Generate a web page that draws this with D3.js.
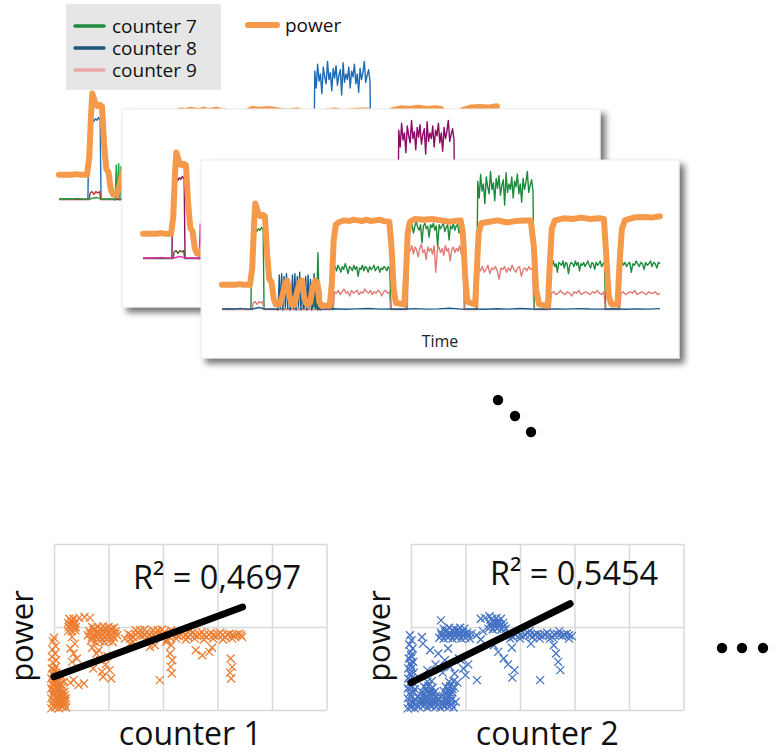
<!DOCTYPE html>
<html>
<head>
<meta charset="utf-8">
<script src="https://cdn.jsdelivr.net/npm/d3@7"></script>
<style>
  body { margin: 0; background: #fff; }
  svg { display: block; font-family: "Open Sans", sans-serif; }
</style>
</head>
<body>
<script>

        // ---- time traces: [t, value] for power, [t0, t1, values] segments for counters
const powerTrace = [
  [0,18],[3,18],[4,18.5],[5,18],[6.4,18],[6.9,30],[7.3,60],[7.6,76],[8.0,72],[8.4,68],[8.8,67],[9.3,68],[9.8,67],
  [10.3,40],[10.8,22],[11.3,20],[11.8,8],[12.3,4],[13.2,4],[13.8,10],[14.4,19],[14.9,21],[15.4,10],[15.9,4],
  [16.6,4],[17.2,14],[17.8,20],[18.3,21],[18.8,8],[19.4,4],[20.1,5],[20.7,16],[21.3,21],[21.8,19],[22.2,6],
  [22.8,3],[24.6,3],[25.1,20],[25.5,50],[26,61],[26.8,63],[28,64],[29,63.5],[30,64.5],[31,64],[32,63.5],
  [33,64.5],[34,63.5],[35,64],[36,64.5],[37,63.5],[38.2,63],[38.7,45],[39.2,15],[39.7,5],[41.6,4],[42,25],
  [42.4,55],[42.9,63],[44,65],[46,64.5],[48,65],[50,64],[52,63],[53,63.5],[54.5,64],[55,55],[55.5,25],[56,6],
  [57.8,4],[58.2,30],[58.6,55],[59.2,62],[61,63],[63,64],[65,62.5],[67,63.5],[69,64],[70.5,64],[71.2,45],
  [71.7,15],[72.4,4],[74.4,3],[74.8,30],[75.3,58],[76,64],[78,65.5],[80,65],[82,66],[84,65],[86,65.5],
  [87.2,65],[87.7,40],[88.3,10],[88.9,4],[90.3,4],[90.8,35],[91.3,58],[92,64],[94,66],[96,66.5],[98,66],[100,67]
];

const counter7Segs = [
  [0, 6.6, [0.6,0.5,0.8,0.5,0.6,0.5]],
  [6.8, 9.4, [48,57,59,56,58,57,59,57]],
  [9.6, 20.4, [0.5,0.6,0.5,0.8,0.5,0.6,0.5,0.5]],
  [20.7, 22.8, [7,2,11,1,41,3,15,1]],
  [23.1, 25.2, [0.5,0.6,0.8]],
  [25.5, 38.3, [29,31,28,32,30,27,31,29,33,30,26,31,30,28,32,29,31,24,30,29,32,28,31,30,27,31,29,30,32,28,30,31,27,30,29,31,30,28,31,29]],
  [38.6, 42.1, [0.6,0.5,0.7,0.5]],
  [42.4, 55.1, [62,63,59,61,55,60,63,59,57,61,48,60,62,58,60,52,61,59,62,57,60,45,61,58,60,62,56,59,61,50,60,58,62,57,60,61,55,59,60,62]],
  [55.4, 58.1, [0.6,0.5,0.7]],
  [58.4, 71.0, [92,80,97,85,90,76,95,88,83,99,86,91,78,94,87,96,82,89,93,75,98,84,90,86,95,80,92,88,97,83,90,77,94,86,91,99,84,89,93,85]],
  [71.3, 74.7, [0.6,0.5,0.7,0.5]],
  [75.0, 87.3, [34,32,35,31,33,27,34,33,32,35,30,34,33,26,32,34,33,31,35,32,34,28,33,32,34,31,33,35,32,30,34,33,29,34,32,33,35,31,33,34]],
  [87.6, 90.6, [0.6,0.5,0.7,0.5]],
  [90.9, 100, [33,35,32,34,31,33,34,27,33,32,35,33,31,34,33,29,34,32,33,35,31,34,33,30,34,33]]
];

const counter8Segs = [
  [0, 12.6, [0.6,0.9,0.6,1.2,0.6,0.7,1.8,0.6,0.8,0.6]],
  [12.8, 22.4, [0,25,1,26,0,24,2,26,1,22,0,3,25,1,26,0,24,2,27,0,20,1,2,24,0,25,2,22,0,3,26,1,18,0,2,0]],
  [22.7, 100, [0.6,0.9,0.5,0.8,1.1,0.6,0.7,0.5,1.0,0.6,0.8,1.2,0.6,0.7,0.5,0.9,0.6,1.1,0.7,0.5,0.8,0.6,1.0,0.7,0.6,0.9,0.5,0.8,0.6,1.0]]
];

const counter9Segs = [
  [0, 6.9, [0.4,0.4,0.4]],
  [7.1, 9.3, [5,6,4,6,5,6]],
  [9.5, 25.4, [0.4,0.4,0.4]],
  [25.7, 38.2, [13,12,14,11,13,15,12,13,10,14,12,13,14,11,13,12,15,13,12,14,11,13,12,14,13,10,13,14,12,13]],
  [38.5, 42.3, [0.4,0.4]],
  [42.6, 55.0, [44,42,46,40,45,43,38,44,47,41,43,36,45,42,44,40,46,27,43,45,41,44,39,46,42,44,35,43,45,41,44,42,46,40,43]],
  [55.3, 58.3, [0.4,0.4]],
  [58.6, 70.9, [30,28,31,27,29,32,26,30,29,31,28,22,30,29,31,27,30,28,32,29,27,30,31,24,29,30,28,31,29,30]],
  [71.2, 74.9, [0.4,0.4]],
  [75.2, 87.2, [12,13,11,12,14,12,11,13,12,10,13,12,14,11,12,13,12,11,13,12,14,12,11,13]],
  [87.5, 90.8, [0.4,0.4]],
  [91.1, 100, [12,13,11,12,13,12,14,11,12,13,12,11,13,12,12,13,11,12]]
];

const legendLabels = ["counter 7", "counter 8", "counter 9"];
const powerLabel = "power";

        // ---- scatter data (counter value, power)
const scatter1Points = [
  [-0.05,0.02],[0.02,0.03],[0.09,0.02],[0.16,0.04],[0.22,0.03],[-0.01,0.05],[0.06,0.06],[0.13,0.05],[0.2,0.07],
  [-0.03,0.08],[0.04,0.09],[0.11,0.08],[0.18,0.1],[0.0,0.11],[0.07,0.12],[0.14,0.12],[0.21,0.11],
  [-0.05,0.14],[0.02,0.15],[0.09,0.13],[0.15,0.16],[0.22,0.14],[-0.01,0.18],[0.06,0.17],[0.13,0.18],[0.2,0.18],
  [-0.02,0.2],[0.05,0.21],[0.12,0.19],[0.19,0.22],[0.0,0.24],[0.07,0.24],[0.14,0.23],
  [-0.05,0.26],[0.02,0.27],[0.09,0.26],[0.16,0.28],[-0.01,0.3],[0.06,0.29],[0.13,0.3],
  [-0.03,0.32],[0.04,0.33],[0.11,0.31],[0.18,0.34],[0.0,0.36],[0.07,0.35],
  [-0.05,0.38],[0.02,0.39],[0.08,0.37],[0.14,0.4],[-0.01,0.42],[0.06,0.41],
  [-0.02,0.44],[0.05,0.45],[0.11,0.43],[0.01,0.48],
  [-0.04,0.5],[0.03,0.52],[-0.02,0.57],[0.04,0.6],[-0.04,0.64],[0.02,0.68],[-0.03,0.73],[0.03,0.77],[-0.02,0.83],[0.0,0.87],
  [0.3,0.33],[0.45,0.3],[0.55,0.32],[0.36,0.36],
  [0.26,0.95],[0.33,0.95],[0.39,0.96],[0.27,1.0],[0.34,1.01],[0.4,1.0],[0.26,1.05],[0.33,1.06],[0.39,1.05],[0.28,1.1],[0.36,1.1],
  [0.3,0.98],[0.37,0.99],[0.3,1.03],[0.37,1.03],[0.31,1.08],
  [0.46,1.11],[0.56,1.12],[0.66,1.11],
  [0.33,0.88],[0.38,0.8],[0.3,0.74],[0.36,0.68],[0.42,0.62],[0.33,0.58],
  [0.62,0.9],[0.7,0.88],[0.78,0.87],[0.86,0.88],[0.94,0.87],[1.02,0.88],[1.1,0.87],[1.16,0.9],
  [0.66,0.92],[0.74,0.92],[0.82,0.91],[0.9,0.92],[0.98,0.91],[1.06,0.92],[1.13,0.92],
  [0.65,0.95],[0.73,0.96],[0.81,0.94],[0.89,0.96],[0.97,0.95],[1.05,0.96],[1.13,0.95],
  [0.7,1.0],[0.8,1.0],[0.9,1.01],[1.0,1.0],[1.1,0.99],[0.75,0.98],[0.85,0.98],[0.95,0.98],[1.05,0.98],
  [0.68,0.84],[0.76,0.82],[0.84,0.83],[0.92,0.82],[1.0,0.83],[1.08,0.82],
  [0.7,0.75],[0.78,0.68],[0.85,0.6],[0.95,0.55],[1.02,0.48],[0.9,0.4],[1.05,0.38],[0.82,0.72],[0.98,0.65],[0.72,0.5],[0.88,0.46],
  [1.36,0.92],[1.45,0.88],[1.54,0.93],[1.62,0.89],[1.7,0.94],[1.78,0.88],[1.86,0.93],[1.95,0.89],[2.03,0.94],
  [2.12,0.88],[2.2,0.93],[2.29,0.89],[2.37,0.94],[2.46,0.88],[2.54,0.93],[2.63,0.89],[2.71,0.94],[2.8,0.88],
  [2.88,0.93],[2.97,0.89],[3.05,0.93],[3.14,0.88],[3.22,0.92],[3.31,0.89],[3.4,0.92],[3.45,0.88],
  [1.41,0.9],[1.5,0.91],[1.58,0.9],[1.67,0.91],[1.75,0.9],[1.83,0.91],[1.91,0.9],[2.0,0.91],[2.08,0.9],
  [2.16,0.91],[2.25,0.9],[2.33,0.91],[2.41,0.9],[2.5,0.91],[2.58,0.9],[2.67,0.91],[2.75,0.9],[2.84,0.91],
  [2.92,0.9],[3.01,0.91],[3.09,0.9],[3.18,0.91],[3.27,0.9],[3.35,0.91],[3.43,0.9],
  [1.4,0.86],[1.58,0.96],[1.74,0.85],[1.9,0.96],[2.07,0.85],[2.24,0.86],[2.42,0.85],[2.58,0.86],[2.75,0.85],
  [2.92,0.86],[3.1,0.85],[3.27,0.86],[2.5,0.97],[1.3,0.86],[1.5,0.96],[1.66,0.97],[1.82,0.96],[1.98,0.97],[2.15,0.96],
  [1.39,0.8],[1.45,0.82],[1.76,0.76],[1.85,0.78],[2.15,0.78],[2.13,0.68],[2.17,0.6],[2.14,0.52],[2.16,0.44],
  [2.06,0.82],[1.94,0.36],[2.6,0.72],[2.72,0.66],[2.85,0.7],[2.9,0.75],[3.24,0.62],[3.27,0.52],[3.23,0.45],[3.25,0.38]
];

const scatter2Points = [
  [-0.06,0.02],[0.0,0.03],[0.07,0.02],[-0.04,0.08],[0.03,0.09],[0.09,0.07],[-0.06,0.14],[0.01,0.15],[0.07,0.13],
  [-0.03,0.2],[0.04,0.21],[-0.06,0.26],[0.01,0.27],[0.07,0.25],[-0.03,0.32],[0.04,0.33],[-0.05,0.38],[0.02,0.39],
  [-0.02,0.44],[0.05,0.45],[-0.05,0.5],[0.02,0.51],[-0.02,0.56],[0.04,0.58],[-0.04,0.62],[0.02,0.64],[-0.01,0.7],
  [0.03,0.74],[-0.03,0.79],[0.01,0.84],[-0.02,0.9],[0.0,0.06],[0.0,0.18],[0.0,0.3],[0.0,0.42],[0.0,0.54],[0.0,0.66],
  [0.14,0.04],[0.22,0.05],[0.3,0.03],[0.38,0.05],[0.46,0.04],[0.54,0.03],[0.62,0.05],[0.7,0.04],[0.78,0.03],
  [0.18,0.1],[0.26,0.11],[0.34,0.09],[0.42,0.1],[0.5,0.11],[0.58,0.09],[0.66,0.1],[0.74,0.11],[0.82,0.1],
  [0.14,0.16],[0.22,0.17],[0.3,0.15],[0.38,0.16],[0.46,0.17],[0.55,0.16],[0.63,0.15],[0.71,0.17],
  [0.2,0.22],[0.28,0.23],[0.36,0.21],[0.44,0.22],[0.6,0.23],[0.68,0.22],[0.76,0.21],
  [0.24,0.28],[0.32,0.29],[0.4,0.27],[0.64,0.28],[0.72,0.29],[0.8,0.27],
  [0.3,0.34],[0.38,0.35],[0.7,0.34],[0.78,0.35],[0.85,0.33],
  [0.18,0.07],[0.26,0.07],[0.34,0.06],[0.42,0.07],[0.5,0.07],[0.58,0.06],[0.66,0.07],[0.74,0.07],
  [0.18,0.13],[0.26,0.14],[0.34,0.13],[0.42,0.13],[0.5,0.14],[0.66,0.13],[0.74,0.14],
  [0.24,0.19],[0.32,0.2],[0.4,0.19],[0.64,0.19],[0.72,0.2],[0.28,0.26],[0.36,0.25],[0.68,0.25],[0.76,0.25],
  [0.22,0.8],[0.35,0.72],[0.5,0.68],[0.62,0.6],[0.45,0.55],[0.72,0.52],[0.8,0.44],[0.58,0.45],[0.88,0.62],
  [0.68,0.74],[0.3,0.48],[0.2,0.88],
  [0.52,0.87],[0.6,0.86],[0.68,0.87],[0.76,0.86],[0.84,0.87],[0.92,0.86],[1.0,0.87],[1.08,0.86],
  [0.56,0.9],[0.64,0.9],[0.72,0.9],[0.8,0.9],[0.88,0.9],[0.96,0.9],[1.04,0.9],
  [0.55,0.93],[0.63,0.94],[0.71,0.93],[0.79,0.94],[0.87,0.93],[0.95,0.94],[1.03,0.93],[1.11,0.92],
  [0.6,0.98],[0.7,0.99],[0.8,0.98],[0.9,0.99],[0.98,0.98],[0.66,0.96],[0.76,0.96],[0.86,0.96],[0.55,1.08],
  [1.2,0.9],[1.28,0.85],[1.32,0.95],
  [1.42,0.98],[1.5,0.97],[1.58,0.98],[1.66,0.97],[1.74,0.98],[1.45,1.04],[1.53,1.05],[1.61,1.04],[1.69,1.05],
  [1.46,1.01],[1.54,1.01],[1.62,1.01],[1.7,1.01],[1.5,1.07],[1.6,1.07],
  [1.48,1.1],[1.57,1.11],[1.65,1.1],[1.28,1.1],[1.36,1.11],[1.44,1.13],
  [1.78,0.92],[1.87,0.88],[1.96,0.93],[2.05,0.89],[2.14,0.93],[2.23,0.88],[2.32,0.92],[2.41,0.89],[2.5,0.93],
  [2.59,0.88],[2.68,0.92],[2.77,0.89],[2.86,0.92],[2.95,0.89],
  [1.82,0.9],[1.91,0.91],[2.0,0.9],[2.09,0.91],[2.18,0.9],[2.27,0.91],[2.36,0.9],[2.45,0.91],[2.54,0.9],
  [2.63,0.91],[2.72,0.9],[2.81,0.91],[2.9,0.9],
  [1.82,0.86],[2.0,0.86],[2.18,0.95],[2.36,0.86],[2.55,0.86],[2.72,0.95],[2.9,0.86],
  [0.92,0.6],[0.96,0.5],[1.0,0.42],[1.05,0.55],[1.21,0.36],[1.52,0.78],[1.6,0.7],[1.7,0.62],[1.78,0.55],
  [1.85,0.75],[1.9,0.48],[1.86,0.39],[2.37,0.36],[2.62,0.78],[2.66,0.68],[2.7,0.58],[2.74,0.48],[2.2,0.8]
];

const trend1 = [[0, 0.40], [3.46, 1.24]];
const trend2 = [[0, 0.33], [2.92, 1.28]];
const r2Labels = ["R² = 0,4697", "R² = 0,5454"];
const scatterXLabels = ["counter 1", "counter 2"];

        //page setup
const width = 777, height = 754;

let svg = d3.select("body").append("svg")
    .attr("width", width)
    .attr("height", height);

svg.append("defs")
    .append("filter")
    .attr("id", "shadow")
    .attr("x", "-10%").attr("y", "-10%")
    .attr("width", "125%").attr("height", "130%")
    .append("feDropShadow")
    .attr("dx", 5).attr("dy", 5)
    .attr("stdDeviation", 3)
    .attr("flood-color", "#000")
    .attr("flood-opacity", 0.55);

        //card layout: same trace, three palettes
const cardW = 478, cardH = 198;
const cards = [
    {left: 38,  top: 50,  framed: false, colors: ["#1f6cb6", "#23a244", "#b93329"]},
    {left: 122, top: 109, framed: true,  colors: ["#8b0b66", "#e630b8", "#4d5a27"]},
    {left: 201, top: 160, framed: true,  colors: ["#1e8a3c", "#1c5a8a", "#e07b76"]}
];

let tx = d3.scaleLinear().domain([0, 100]).range([21, 459]);
let ty = d3.scaleLinear().domain([0, 100]).range([150, 10]);
let traceLine = d3.line().x(d => tx(d[0])).y(d => ty(d[1]));

function expand(segs) {
    let pts = [];
    segs.forEach(([t0, t1, vals]) => {
        vals.forEach((v, i) => {
            let t = vals.length > 1 ? t0 + (t1 - t0) * i / (vals.length - 1) : t0;
            pts.push([t, v]);
        });
    });
    return pts;
}

cards.forEach(card => {
    let g = svg.append("g").attr("transform", `translate(${card.left},${card.top})`);

    g.append("rect")
        .attr("width", cardW)
        .attr("height", cardH)
        .attr("fill", "#fff")
        .attr("stroke", card.framed ? "#ececec" : "none")
        .attr("filter", card.framed ? "url(#shadow)" : null);

            //counter 7, counter 9 then counter 8 on top
    [[counter7Segs, 0], [counter9Segs, 2], [counter8Segs, 1]].forEach(([segs, ci]) => {
        g.append("path")
            .attr("d", traceLine(expand(segs)))
            .attr("fill", "none")
            .attr("stroke", card.colors[ci])
            .attr("stroke-width", 1.4)
            .attr("stroke-linejoin", "round");
    });

    g.append("path")
        .attr("d", traceLine(powerTrace))
        .attr("fill", "none")
        .attr("stroke", "#f5994a")
        .attr("stroke-width", 6)
        .attr("stroke-linejoin", "round")
        .attr("stroke-linecap", "round");

    g.append("text")
        .attr("x", 239)
        .attr("y", 187)
        .attr("text-anchor", "middle")
        .attr("font-size", 16)
        .attr("fill", "#222")
        .text("Time");
});

        //legend
let legend = svg.append("g");
legend.append("rect")
    .attr("x", 66).attr("y", 4)
    .attr("width", 155).attr("height", 86)
    .attr("fill", "#e6e6e6");

legendLabels.forEach((label, i) => {
    let ly = 26 + i * 22;
    legend.append("line")
        .attr("x1", 75).attr("x2", 104)
        .attr("y1", ly).attr("y2", ly)
        .attr("stroke", i === 0 ? "#1e8a3c" : i === 1 ? "#1a5878" : "#eaa8a8")
        .attr("stroke-width", 3.5)
        .attr("stroke-linecap", "round");
    legend.append("text")
        .attr("x", 112).attr("y", ly + 7)
        .attr("font-size", 19)
        .attr("fill", "#111")
        .text(label);
});

legend.append("line")
    .attr("x1", 248).attr("x2", 277)
    .attr("y1", 25).attr("y2", 25)
    .attr("stroke", "#f5994a")
    .attr("stroke-width", 6)
    .attr("stroke-linecap", "round");
legend.append("text")
    .attr("x", 285).attr("y", 32)
    .attr("font-size", 19)
    .attr("fill", "#111")
    .text(powerLabel);

        //ellipsis between the cards and the scatter plots
svg.selectAll("circle.gap")
    .data([[498, 400], [515, 416], [531, 432], [722, 648], [742, 648], [763, 648]])
    .enter()
    .append("circle")
        .attr("class", "gap")
        .attr("cx", d => d[0])
        .attr("cy", d => d[1])
        .attr("r", 5.2)
        .attr("fill", "#000");

        //scatter plots
function drawScatter(left, points, trend, r2, xlabel, color, r2y) {
    let sx = d3.scaleLinear().domain([0, 5]).range([left, left + 272.5]);
    let sy = d3.scaleLinear().domain([0, 2]).range([710, 544]);
    let g = svg.append("g");

    g.append("g")
        .attr("transform", "translate(0,710)")
        .call(d3.axisBottom(sx).ticks(5).tickSize(-166).tickFormat(""))
        .call(a => a.select(".domain").remove())
        .call(a => a.selectAll("line").attr("stroke", "#d9d9d9").attr("stroke-width", 1.5));
    g.append("g")
        .attr("transform", `translate(${left},0)`)
        .call(d3.axisLeft(sy).ticks(2).tickSize(-272.5).tickFormat(""))
        .call(a => a.select(".domain").remove())
        .call(a => a.selectAll("line").attr("stroke", "#d9d9d9").attr("stroke-width", 1.5));

    g.selectAll("path.pt")
        .data(points)
        .enter()
        .append("path")
            .attr("class", "pt")
            .attr("transform", d => `translate(${sx(d[0])},${sy(d[1])})`)
            .attr("d", "M-4,-4L4,4M-4,4L4,-4")
            .attr("stroke", color)
            .attr("stroke-width", 1.3)
            .attr("fill", "none");

    g.append("line")
        .attr("x1", sx(trend[0][0])).attr("y1", sy(trend[0][1]))
        .attr("x2", sx(trend[1][0])).attr("y2", sy(trend[1][1]))
        .attr("stroke", "#000")
        .attr("stroke-width", 7)
        .attr("stroke-linecap", "round");

    g.append("text")
        .attr("x", sx(1.45)).attr("y", r2y)
        .attr("font-size", 32.5)
        .attr("fill", "#111")
        .text(r2);

    g.append("text")
        .attr("x", sx(2.5)).attr("y", 745)
        .attr("text-anchor", "middle")
        .attr("font-size", 32)
        .attr("fill", "#111")
        .text(xlabel);

    g.append("text")
        .attr("transform", `translate(${left - 21},636) rotate(-90)`)
        .attr("text-anchor", "middle")
        .attr("font-size", 31)
        .attr("fill", "#111")
        .text("power");
}

drawScatter(54, scatter1Points, trend1, r2Labels[0], scatterXLabels[0], "#ed7d31", 589);
drawScatter(411, scatter2Points, trend2, r2Labels[1], scatterXLabels[1], "#4472c4", 585);

</script>
</body>
</html>
